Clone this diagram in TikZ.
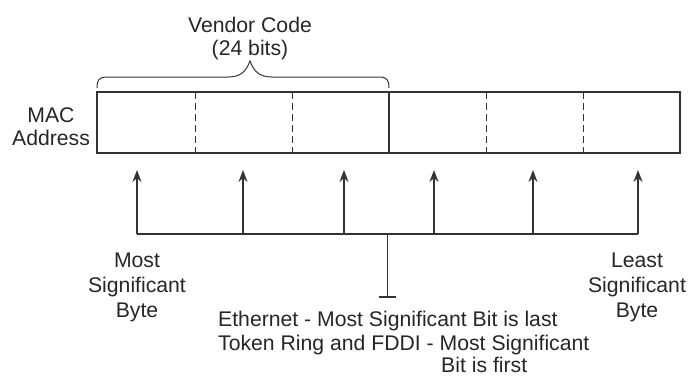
\documentclass[tikz,border=0pt]{standalone}
\usepackage{fontspec}
\setmainfont{Liberation Sans}
\usetikzlibrary{arrows.meta}
\begin{document}
\begin{tikzpicture}[x=1pt,y=-1pt,
  ink/.style={draw=black!80, line width=1.3pt},
  divider/.style={draw=black!80, line width=1pt, dash pattern=on 7pt off 4pt},
  arr/.style={ink, -{Stealth[length=12pt,width=9pt]}},
  lbl/.style={inner sep=0pt, anchor=base, text=black!85, font=\fontsize{21.2}{24}\selectfont},
  lbll/.style={lbl, anchor=base west}]
\useasboundingbox (0,0) rectangle (688,375);
% MAC address box
\node[ink, rectangle, minimum width=583pt, minimum height=61pt, inner sep=0pt] (mac) at (388.5,122.5) {};
\draw[ink, line width=1.4pt] (389,92) coordinate (s1) -- (389,153) coordinate (s2);
\foreach \i/\x in {1/195,2/292,3/486,4/583} {
  \draw[divider] (\x,92) coordinate (dt\i) -- (\x,153) coordinate (db\i);
}
% label
\node[lbl] (macl1) at (51,122) {MAC};
\node[lbl] (macl2) at (51,145) {Address};
% brace
\draw[ink, line width=1pt] (97,88) .. controls (97,80) and (99,77) .. (107,77) -- (228,77)
  .. controls (240,77) and (246,72) .. (250,61)
  .. controls (254,72) and (260,77) .. (272,77) -- (379,77)
  .. controls (387,77) and (389,80) .. (389,88);
\node[lbl] (vc1) at (250,32) {Vendor Code};
\node[lbl] (vc2) at (250,55) {(24 bits)};
% arrows
\coordinate (bl) at (137,234);
\coordinate (br) at (638,234);
\draw[ink] (bl) -- (br);
\foreach \i/\x in {1/137,2/243,3/344,4/434,5/533,6/638} {
  \coordinate (b\i) at (\x,234);
  \coordinate (t\i) at (\x,170);
  \draw[arr] (b\i) -- (t\i);
}
% stem with T-bar
\coordinate (stemtop) at (387.5,234);
\coordinate (stembot) at (387.5,297);
\coordinate (barl) at (379,297);
\coordinate (barr) at (396,297);
\draw[ink] (stemtop) -- (stembot);
\draw[ink] (barl) -- (barr);
% byte labels
\node[lbl] (ms1) at (137,267) {Most};
\node[lbl] (ms2) at (137,292) {Significant};
\node[lbl] (ms3) at (137,317) {Byte};
\node[lbl] (ls1) at (637,267) {Least};
\node[lbl] (ls2) at (637,292) {Significant};
\node[lbl] (ls3) at (637,317) {Byte};
% bottom text
\node[lbll] (bt1) at (218,326) {Ethernet - Most Significant Bit is last};
\node[lbll] (bt2) at (218,350) {Token Ring and FDDI - Most Significant};
\node[lbll] (bt3) at (441,372) {Bit is first};
\end{tikzpicture}
\end{document}
